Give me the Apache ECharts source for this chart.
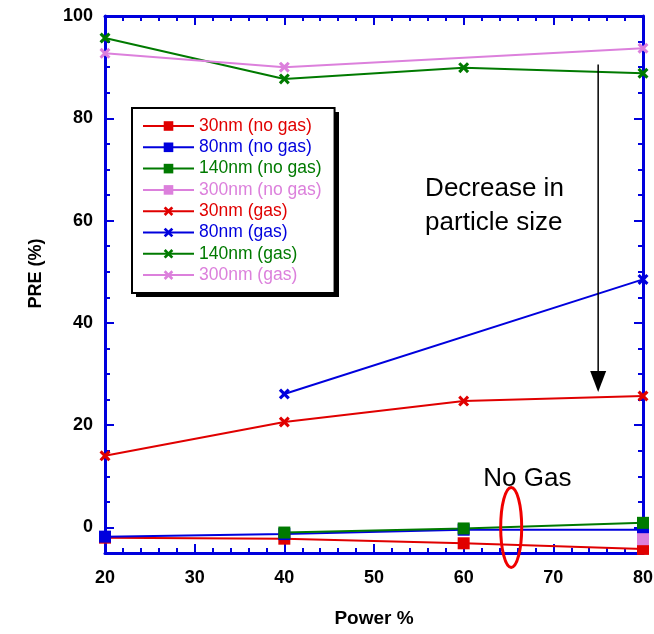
<!DOCTYPE html>
<html>
<head>
  <meta charset="utf-8">
  <title>PRE vs Power</title>
  <script src="https://cdn.jsdelivr.net/npm/echarts@6/dist/echarts.min.js"></script>
</head>
<body style="margin:0">
<div id="main" style="width: 654px;height:634px;"></div>
<script type="text/javascript">
  // x values (power %)
  var power = [20, 40, 60, 80];

  // PRE (%) without gas, null = no point
  var noGas30 = [-2.0, -2.2, -3.1, -4.2];
  var noGas80 = [-1.8, -1.3, -0.45, -0.45];
  var noGas140 = [null, -1.0, -0.2, 0.9];
  var noGas300 = [null, null, null, -2.3];

  // PRE (%) with gas
  var gas30 = [14, 20.6, 24.7, 25.7];
  var gas80 = [null, 26.1, null, 48.5];
  var gas140 = [95.7, 87.7, 89.9, 88.8];
  var gas300 = [92.7, 90, null, 93.7];

  var names = ['30nm (no gas)', '80nm (no gas)', '140nm (no gas)', '300nm (no gas)',
               '30nm (gas)', '80nm (gas)', '140nm (gas)', '300nm (gas)'];
  var colors = ['#e00000', '#0000dd', '#007a00', '#dc80dc'];
  var yTicks = [0, 20, 40, 60, 80, 100];

  // annotation anchors, in data units
  var arrowX = 75, arrowTop = 90.5, arrowTip = 26.5;
  var noteText = 'Decrease in\nparticle size';
  var notePos = [55.7, 62.9];
  var noGasPos = [67.1, 9.6];
  var ringPos = [65.3, 0];

  var FONT = '"Liberation Sans", Arial, sans-serif';
  var AXIS_BLUE = '#0000dd';
  var crossPath = 'path://M0,2L2,0L5,3L8,0L10,2L7,5L10,8L8,10L5,7L2,10L0,8L3,5Z';

  function pairs(ys) {
    var out = [];
    for (var i = 0; i < power.length; i++) {
      if (ys[i] !== null) out.push([power[i], ys[i]]);
    }
    return out;
  }

  var allData = [noGas30, noGas80, noGas140, noGas300, gas30, gas80, gas140, gas300];

  var series = allData.map(function (d, i) {
    var c = colors[i % 4];
    var gas = i >= 4;
    return {
      name: names[i],
      type: 'line',
      data: pairs(d),
      symbol: gas ? crossPath : 'rect',
      symbolSize: gas ? 11 : 12,
      showAllSymbol: true,
      lineStyle: { color: c, width: 2 },
      itemStyle: { color: c, borderWidth: 0 },
      z: gas ? 3 : 4,
      animation: false
    };
  });

  // value axis sharing the same range; minor ticks every 5, major ticks on yTicks
  function yAxisPart(pos, major, withLabel) {
    var ax = {
      type: 'value',
      position: pos,
      min: -5,
      max: 100,
      interval: 5,
      splitLine: { show: false },
      axisLine: { show: !major, onZero: false, lineStyle: { color: AXIS_BLUE, width: 3 } },
      axisTick: { show: true, inside: true, length: major ? 9 : 5,
                  lineStyle: { color: AXIS_BLUE, width: 2 } },
      axisLabel: { show: false }
    };
    if (major) ax.axisTick.customValues = yTicks;
    if (withLabel) {
      ax.axisLabel = {
        show: true, customValues: yTicks, margin: 12,
        color: '#000', fontWeight: 'bold', fontSize: 18, fontFamily: FONT
      };
      ax.name = 'PRE (%)';
      ax.nameLocation = 'middle';
      ax.nameGap = 60;
      ax.nameTextStyle = { color: '#000', fontWeight: 'bold', fontSize: 18, fontFamily: FONT,
                           padding: [0, 0, 0, 22] };
    }
    return ax;
  }

  function xAxisPart(pos, withLabel) {
    var ax = {
      type: 'value',
      position: pos,
      min: 20,
      max: 80,
      interval: 10,
      splitLine: { show: false },
      axisLine: { show: true, onZero: false, lineStyle: { color: AXIS_BLUE, width: 3 } },
      axisTick: { show: true, inside: true, length: 9, lineStyle: { color: AXIS_BLUE, width: 2 } },
      minorTick: { show: true, splitNumber: 5, length: 5, lineStyle: { color: AXIS_BLUE, width: 2 } },
      axisLabel: { show: false }
    };
    if (withLabel) {
      ax.axisLabel = { show: true, margin: 16, color: '#000', fontWeight: 'bold',
                       fontSize: 18, fontFamily: FONT };
      ax.name = 'Power %';
      ax.nameLocation = 'middle';
      ax.nameGap = 56;
      ax.nameTextStyle = { color: '#000', fontWeight: 'bold', fontSize: 19, fontFamily: FONT };
    }
    return ax;
  }

  var myChart = echarts.init(document.getElementById('main'));

  var option = {
    animation: false,
    backgroundColor: '#fff',
    textStyle: { fontFamily: FONT },
    grid: { left: 105, right: 11, top: 16, bottom: 81, containLabel: false, outerBoundsMode: 'none' },
    legend: {
      orient: 'vertical',
      left: 132,
      top: 108,
      z: 6,
      itemWidth: 51,
      itemHeight: 12,
      itemGap: 3.3,
      padding: [9, 13, 9, 10],
      backgroundColor: '#fff',
      borderColor: '#000',
      borderWidth: 2,
      borderRadius: 0,
      selectedMode: false,
      textStyle: { fontSize: 17.5, fontFamily: FONT, lineHeight: 17 },
      data: names.map(function (n, i) {
        return { name: n, textStyle: { color: colors[i % 4] } };
      })
    },
    xAxis: [xAxisPart('bottom', true), xAxisPart('top', false)],
    yAxis: [
      yAxisPart('left', false, true),
      yAxisPart('left', true, false),
      yAxisPart('right', false, false),
      yAxisPart('right', true, false)
    ],
    series: series
  };

  myChart.setOption(option);

  // annotations placed from data units
  function px(p) {
    return myChart.convertToPixel({ xAxisIndex: 0, yAxisIndex: 0 }, p);
  }
  var a0 = px([arrowX, arrowTop]);
  var a1 = px([arrowX, arrowTip]);
  var t = px(notePos);
  var g = px(noGasPos);
  var r = px(ringPos);

  myChart.setOption({
    graphic: [
      // drop shadow behind the legend box
      { type: 'rect', silent: true, z: 5,
        shape: { x: 136, y: 112, width: 203, height: 185 },
        style: { fill: '#000' } },
      { type: 'line', silent: true, z: 10,
        shape: { x1: a0[0], y1: a0[1], x2: a1[0], y2: a1[1] - 18 },
        style: { stroke: '#000', lineWidth: 1.5 } },
      { type: 'polygon', silent: true, z: 10,
        shape: { points: [[a1[0] - 8, a1[1] - 21], [a1[0] + 8, a1[1] - 21], [a1[0], a1[1]]] },
        style: { fill: '#000' } },
      { type: 'text', silent: true, z: 10, x: t[0], y: t[1],
        style: { text: noteText, fill: '#000', font: '26px ' + FONT, lineHeight: 34,
                 textAlign: 'left', textVerticalAlign: 'middle' } },
      { type: 'text', silent: true, z: 10, x: g[0], y: g[1],
        style: { text: 'No Gas', fill: '#000', font: '26px ' + FONT,
                 textAlign: 'center', textVerticalAlign: 'middle' } },
      { type: 'ellipse', silent: true, z: 10,
        shape: { cx: r[0], cy: r[1], rx: 10.5, ry: 40 },
        style: { fill: 'none', stroke: '#f00000', lineWidth: 3 } }
    ]
  });
</script>
</body>
</html>
